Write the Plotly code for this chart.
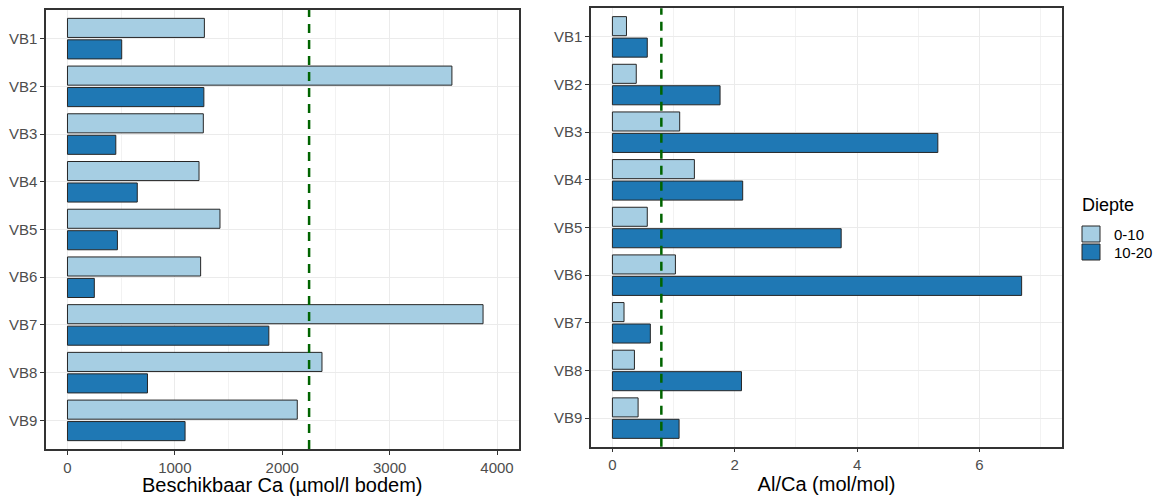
import plotly.graph_objects as go

# ---- data ----
sites = ["VB1", "VB2", "VB3", "VB4", "VB5", "VB6", "VB7", "VB8", "VB9"]
depths = ["0-10", "10-20"]
ca_0_10 = [1275, 3580, 1265, 1225, 1420, 1240, 3870, 2370, 2140]
ca_10_20 = [505, 1270, 450, 650, 465, 250, 1875, 745, 1095]
alca_0_10 = [0.23, 0.39, 1.10, 1.34, 0.57, 1.03, 0.19, 0.36, 0.42]
alca_10_20 = [0.57, 1.76, 5.32, 2.13, 3.74, 6.69, 0.62, 2.11, 1.09]
ca_ticks = [0, 1000, 2000, 3000, 4000]
alca_ticks = [0, 2, 4, 6]
ca_threshold = 2250
alca_threshold = 0.8

colors = {"0-10": "#A6CEE3", "10-20": "#1F78B4"}
outline = "#262626"

W, H = 1162, 496

fig = go.Figure()

for vals, dep in [(ca_0_10, "0-10"), (ca_10_20, "10-20")]:
    fig.add_trace(go.Bar(y=sites, x=vals, orientation="h", name=dep,
                         marker=dict(color=colors[dep], line=dict(color=outline, width=1)),
                         xaxis="x", yaxis="y", showlegend=False))
for vals, dep in [(alca_0_10, "0-10"), (alca_10_20, "10-20")]:
    fig.add_trace(go.Bar(y=sites, x=vals, orientation="h", name=dep,
                         marker=dict(color=colors[dep], line=dict(color=outline, width=1)),
                         xaxis="x2", yaxis="y2", showlegend=False))

def px_x(p):
    return p / W

def px_y(p):
    return 1 - p / H

axis_common = dict(
    showline=True, mirror=True, linecolor="#333333", linewidth=1.5,
    ticks="outside", ticklen=4, tickcolor="#333333", tickwidth=1,
    gridcolor="#EBEBEB", gridwidth=1, zeroline=False,
)

font_family = "Liberation Sans, Arial, sans-serif"

fig.update_layout(
    width=W, height=H,
    margin=dict(l=0, r=0, t=0, b=0),
    paper_bgcolor="white", plot_bgcolor="white",
    barmode="group", bargap=0.1, bargroupgap=0.111,
    font=dict(family=font_family, color="#000000"),
    xaxis=dict(domain=[px_x(46), px_x(518.5)], range=[-200, 4200],
               tickvals=ca_ticks,
               minor=dict(tickvals=[500, 1500, 2500, 3500], showgrid=True,
                          gridcolor="#F2F2F2", gridwidth=0.6, ticks=""),
               tickfont=dict(size=15, color="#4D4D4D"),
               title=dict(text="Beschikbaar Ca (µmol/l bodem)", font=dict(size=20, color="#000000"), standoff=0),
               anchor="y", **axis_common),
    yaxis=dict(domain=[px_y(449), px_y(10)], range=[8.6, -0.6], type="category",
               tickfont=dict(size=15, color="#4D4D4D"), anchor="x", **axis_common),
    xaxis2=dict(domain=[px_x(591), px_x(1062)], range=[-0.35, 7.35],
                tickvals=alca_ticks,
                minor=dict(tickvals=[1, 3, 5, 7], showgrid=True,
                           gridcolor="#F2F2F2", gridwidth=0.6, ticks=""),
                tickfont=dict(size=15, color="#4D4D4D"),
                title=dict(text="Al/Ca (mol/mol)", font=dict(size=20, color="#000000"), standoff=0),
                anchor="y2", **axis_common),
    yaxis2=dict(domain=[px_y(446.7), px_y(8.3)], range=[8.6, -0.6], type="category",
                tickfont=dict(size=15, color="#4D4D4D"), anchor="x2", **axis_common),
)

# threshold lines
fig.add_shape(type="line", xref="x", yref="y domain", x0=ca_threshold, x1=ca_threshold, y0=0, y1=1,
              line=dict(color="#006400", width=2.5, dash="9px,7px"), layer="above")
fig.add_shape(type="line", xref="x2", yref="y2 domain", x0=alca_threshold, x1=alca_threshold, y0=0, y1=1,
              line=dict(color="#006400", width=2.5, dash="9px,7px"), layer="above")

# manual ggplot-style legend
fig.add_annotation(x=px_x(1080), y=px_y(205), xref="paper", yref="paper", text="Diepte",
                   showarrow=False, xanchor="left", yanchor="middle",
                   font=dict(size=18, color="#000000", family=font_family))
key_top = 225
key_h = 18
for i, dep in enumerate(depths):
    y0 = key_top + i * key_h
    fig.add_shape(type="rect", xref="paper", yref="paper",
                  x0=px_x(1082), x1=px_x(1100), y0=px_y(y0 + key_h - 1), y1=px_y(y0 + 1),
                  fillcolor=colors[dep], line=dict(color=outline, width=1))
    fig.add_annotation(x=px_x(1112), y=px_y(y0 + key_h / 2), xref="paper", yref="paper", text=dep,
                       showarrow=False, xanchor="left", yanchor="middle",
                       font=dict(size=15, color="#000000", family=font_family))

fig.write_html("out.html")
